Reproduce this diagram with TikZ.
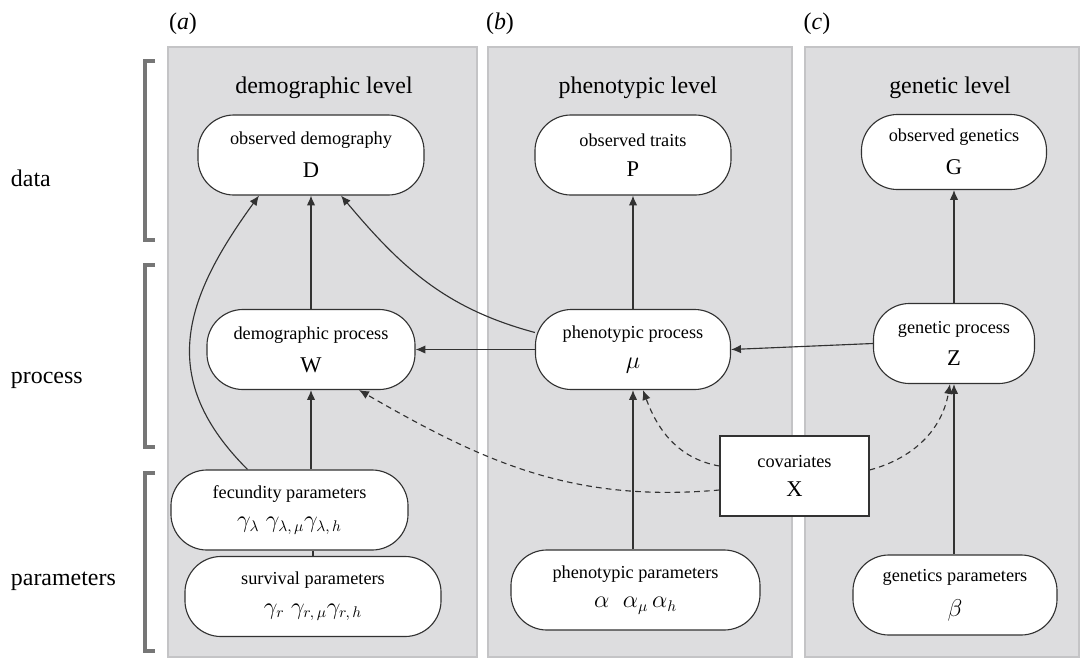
\documentclass[tikz,border=0pt]{standalone}
\usepackage{amsmath, amssymb}
\usepackage{fontspec}
\setmainfont{Liberation Serif}
\usetikzlibrary{arrows.meta, calc}

\definecolor{panelgray}{RGB}{221,221,223}
\definecolor{paneledge}{RGB}{196,196,198}
\definecolor{linegray}{RGB}{50,50,50}
\definecolor{bracketgray}{RGB}{118,118,118}

\tikzset{
  panel/.style={fill=panelgray, draw=paneledge, line width=1.2pt},
  stage/.style={draw=linegray, fill=white, line width=0.8pt, rounded corners=0.9cm,
    minimum height=2cm, align=center, inner sep=0pt},
  covbox/.style={draw=linegray, fill=white, line width=0.8pt, minimum width=3.725cm,
    minimum height=2cm, align=center, inner sep=0pt},
  link/.style={draw=linegray, line width=0.8pt, -{Latex[length=7pt,width=6pt]}},
  effect/.style={link, dash pattern=on 4pt off 3pt},
  bracket/.style={draw=bracketgray, line width=2.8pt},
  title/.style={font=\fontsize{17}{20}\selectfont},
  rowlabel/.style={font=\fontsize{17}{20}\selectfont, anchor=west},
}
\newcommand{\stagetext}[2]{{\fontsize{13}{15}\selectfont #1}\\[9pt]{\fontsize{16}{18}\selectfont #2}}

\begin{document}
\begin{tikzpicture}[x=0.025cm, y=-0.025cm]
  \useasboundingbox (0,0) rectangle (1081,659);

  % Panels
  \draw[panel] (168,47) rectangle (477,657);
  \draw[panel] (488,47) rectangle (792,657);
  \draw[panel] (805,47) rectangle (1079,657);
  \node[title] (taga) at (183,24) {(\textit{a})};
  \node[title] (tagb) at (500,24) {(\textit{b})};
  \node[title] (tagc) at (817,24) {(\textit{c})};
  \node[title] (levD) at (324,88) {demographic level};
  \node[title] (levP) at (638,88) {phenotypic level};
  \node[title] (levG) at (950,88) {genetic level};

  % Brackets and row labels
  \draw[bracket] (155,61) -- (145,61) -- (145,240) -- (155,240);
  \draw[bracket] (155,265) -- (145,265) -- (145,447) -- (155,447);
  \draw[bracket] (155,473) -- (145,473) -- (145,651) -- (155,651);
  \node[rowlabel] (rdata) at (6,178) {data};
  \node[rowlabel] (rproc) at (6,380) {process};
  \node[rowlabel] (rpars) at (6,581) {parameters};

  % Data row
  \node[stage, minimum width=5.65cm] (obsD) at (311,155) {\stagetext{observed demography}{D}};
  \node[stage, minimum width=4.9cm] (obsP) at (633,155) {\stagetext{observed traits}{P}};
  \node[stage, minimum width=4.625cm, minimum height=1.875cm] (obsG) at (954,152) {\stagetext{observed genetics}{G}};

  % Process row
  \node[stage, minimum width=5.2cm] (W) at (311,349.5) {\stagetext{demographic process}{W}};
  \node[stage, minimum width=4.875cm] (mu) at (633,349.5) {\stagetext{phenotypic process}{$\mu$}};
  \node[stage, minimum width=4.025cm] (Z) at (954,343.5) {\stagetext{genetic process}{Z}};
  \node[covbox] (X) at (794.5,476) {\stagetext{covariates}{X}};

  % Parameter row
  \node[stage, minimum width=5.925cm] (fec) at (289.5,510) {\stagetext{fecundity parameters}{$\gamma_{\lambda}\;\gamma_{\lambda,\,\mu}\gamma_{\lambda,\,h}$}};
  \node[stage, minimum width=6.4cm] (surv) at (313,596.5) {\stagetext{survival parameters}{$\gamma_{r}\;\gamma_{r,\,\mu}\gamma_{r,\,h}$}};
  \node[stage, minimum width=6.225cm] (phenpar) at (635.5,590) {\stagetext{phenotypic parameters}{$\alpha\;\;\alpha_{\mu}\,\alpha_{h}$}};
  \node[stage, minimum width=5.1cm] (genpar) at (955,595) {\stagetext{genetics parameters}{$\beta$}};

  % Links
  \draw[link] (W) -- (obsD);
  \draw[link] ($(mu.west)+(0,-17)$) to[out=165, in=-50] ($(obsD.south)+(30,0)$);
  \draw[link] ($(fec.north)+(-42,0)$) to[out=135, in=-126, looseness=1.2] ($(obsD.south)+(-52,0)$);
  \draw[link] (W |- fec.north) -- (W.south);
  \draw[draw=linegray, line width=0.8pt] (surv.north) -- (surv.north |- fec.south);
  \draw[link] (mu) -- (W);
  \draw[link] (mu) -- (obsP);
  \draw[link] (mu |- phenpar.north) -- (mu.south);
  \draw[link] (Z.west) -- (mu.east);
  \draw[link] (Z) -- (obsG);
  \draw[link] (Z |- genpar.north) -- (Z.south);

  % Covariate effects
  \draw[effect] ($(X.west)+(0,14)$) to[out=185, in=-30] ($(W.south)+(48,0)$);
  \draw[effect] ($(X.west)+(0,-10)$) to[out=170, in=-70] ($(mu.south)+(10,0)$);
  \draw[effect] ($(X.east)+(0,-6)$) to[out=15, in=-100] ($(Z.south)+(-4,0)$);
\end{tikzpicture}
\end{document}
